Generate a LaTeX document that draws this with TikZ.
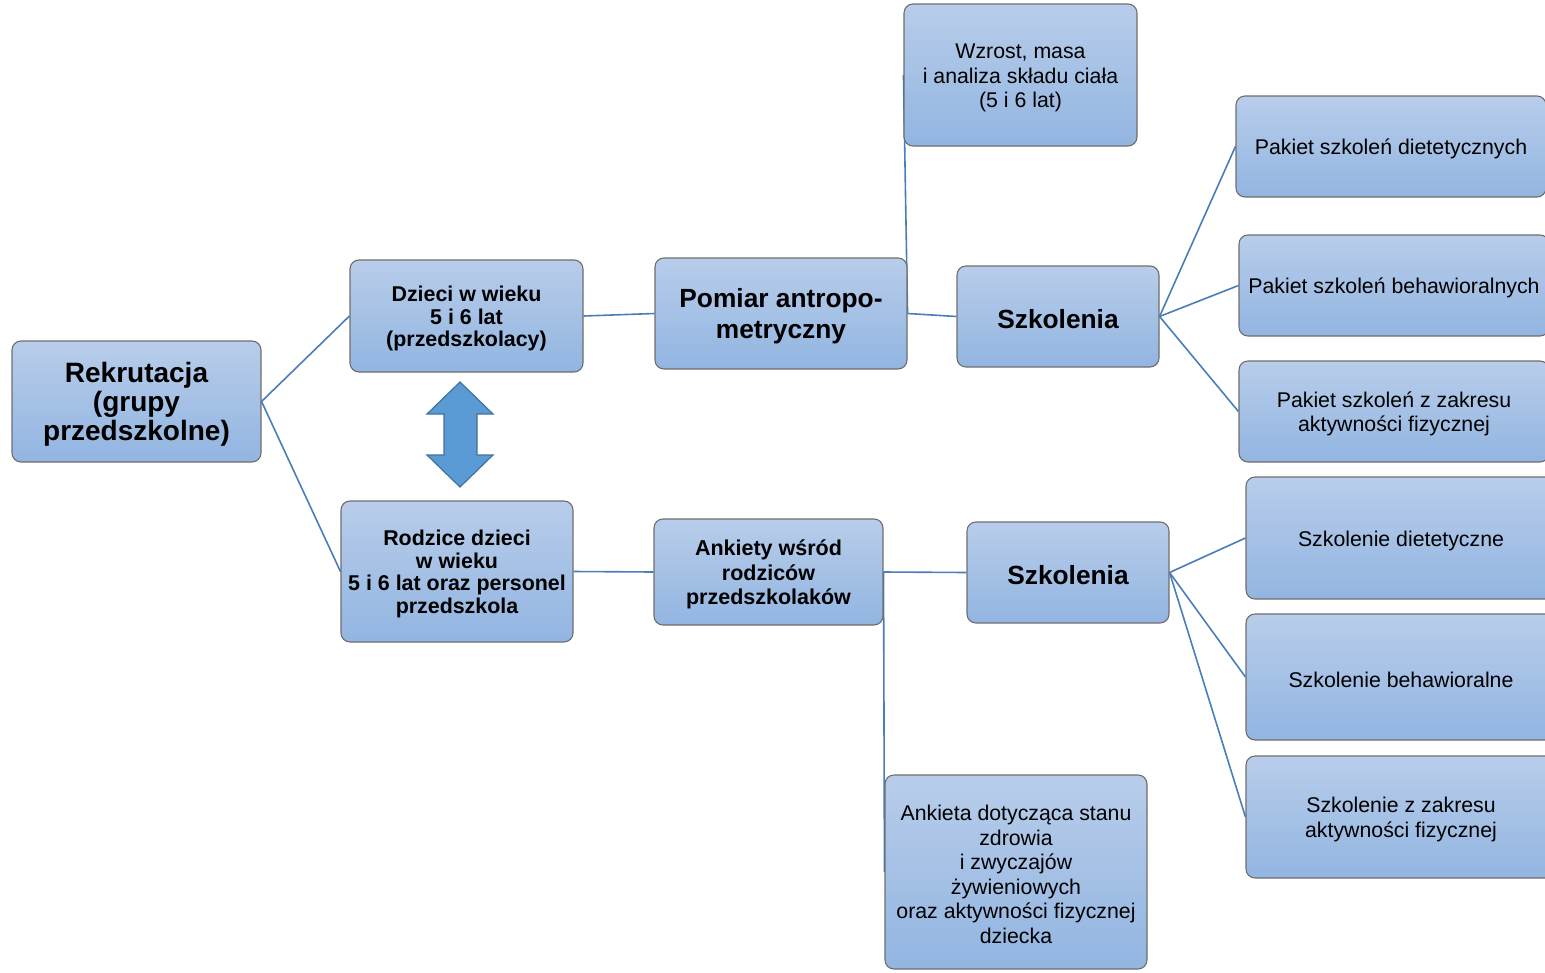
\documentclass[tikz,border=0pt]{standalone}
\usepackage{fontspec}
\setmainfont{Liberation Sans}
\usetikzlibrary{backgrounds}

\definecolor{boxtop}{RGB}{184,205,234}
\definecolor{boxbot}{RGB}{146,181,225}
\definecolor{boxline}{RGB}{110,110,110}
\definecolor{linkblue}{RGB}{74,126,187}
\definecolor{arrowfill}{RGB}{91,155,213}
\definecolor{arrowline}{RGB}{65,113,156}

\newcommand{\fhuge}{\fontsize{28}{29}\selectfont\bfseries}
\newcommand{\fbig}{\fontsize{26.3}{31}\selectfont\bfseries}
\newcommand{\fmid}{\fontsize{21.4}{22.5}\selectfont\bfseries}
\newcommand{\fmidb}{\fontsize{21.5}{24.5}\selectfont\bfseries}
\newcommand{\freg}{\fontsize{21.3}{24.5}\selectfont}
% pushes the first line a little down, as the boxes of the original do
\newcommand{\ts}{\rule{0pt}{\dimexpr 0.73em+5pt\relax}}

\tikzset{
    box/.style={draw=boxline, line width=1.1pt, rounded corners=9pt,
        top color=boxtop, bottom color=boxbot, align=center, inner sep=2pt},
    link/.style={draw=linkblue, line width=1.6pt}
}

\begin{document}
\begin{tikzpicture}[x=1pt, y=-1pt]
    \useasboundingbox (0,0) rectangle (1545,972);

    \node[box, minimum width=249pt, minimum height=121pt, font=\fhuge] (rekr) at (136.5,401.5) {\ts Rekrutacja\\(grupy\\przedszkolne)};
    \node[box, minimum width=233pt, minimum height=112pt, font=\fmid] (dzieci) at (466.5,316) {\ts Dzieci w wieku\\5 i 6 lat\\(przedszkolacy)};
    \node[box, minimum width=232pt, minimum height=141pt, font=\fmid] (rodzice) at (457,571.5) {\ts Rodzice dzieci\\w wieku\\5 i 6 lat oraz personel\\przedszkola};
    \node[box, minimum width=252pt, minimum height=111pt, font=\fbig] (pomiar) at (781,313.5) {\ts Pomiar antropo-\\metryczny};
    \node[box, minimum width=229pt, minimum height=106pt, font=\fmidb] (ankiety) at (768.5,572) {\ts Ankiety wśród\\rodziców\\przedszkolaków};
    \node[box, minimum width=233pt, minimum height=142pt, font=\freg] (wzrost) at (1020.5,75) {\ts Wzrost, masa\\i analiza składu ciała\\(5 i 6 lat)};
    \node[box, minimum width=202pt, minimum height=101pt, font=\fbig] (szkolA) at (1058,316.5) {\ts Szkolenia};
    \node[box, minimum width=202pt, minimum height=101pt, font=\fbig] (szkolB) at (1068,572.5) {\ts Szkolenia};
    \node[box, minimum width=262pt, minimum height=194pt, font=\freg] (ankieta) at (1016,872) {\ts Ankieta dotycząca stanu\\zdrowia\\i zwyczajów\\żywieniowych\\oraz aktywności fizycznej\\dziecka};

    \node[box, minimum width=310pt, minimum height=101pt, font=\freg] (pakA) at (1391,146.5) {\ts Pakiet szkoleń dietetycznych};
    \node[box, minimum width=310pt, minimum height=101pt, font=\freg] (pakB) at (1394,285.5) {\ts Pakiet szkoleń behawioralnych};
    \node[box, minimum width=310pt, minimum height=101pt, font=\freg] (pakC) at (1394,411.5) {\ts Pakiet szkoleń z zakresu\\aktywności fizycznej};
    \node[box, minimum width=310pt, minimum height=122pt, font=\freg] (szkA) at (1401,538) {\ts Szkolenie dietetyczne};
    \node[box, minimum width=310pt, minimum height=126pt, font=\freg] (szkB) at (1401,677) {\ts Szkolenie behawioralne};
    \node[box, minimum width=310pt, minimum height=122pt, font=\freg] (szkC) at (1401,817) {\ts Szkolenie z zakresu\\aktywności fizycznej};

    % double arrow between the two groups
    \draw[fill=arrowfill, draw=arrowline, line width=1.2pt, line join=miter]
        (460,382) -- (493,414) -- (477,414) -- (477,455) -- (493,455) -- (460,487)
        -- (427,455) -- (444,455) -- (444,414) -- (427,414) -- cycle;

    \begin{scope}[on background layer]
        \draw[link] (rekr.east) -- (dzieci.west);
        \draw[link] (rekr.east) -- (rodzice.west);
        \draw[link] (dzieci.east) -- (pomiar.west);
        \draw[link] (rodzice.east) -- (ankiety.west);
        \draw[link] (pomiar.east) -- (szkolA.west);
        \draw[link] (pomiar.east) -- (wzrost.west);
        \draw[link] (ankiety.east) -- (szkolB.west);
        \draw[link] (ankiety.east) -- (ankieta.west);
        \draw[link] (szkolA.east) -- (pakA.west);
        \draw[link] (szkolA.east) -- (pakB.west);
        \draw[link] (szkolA.east) -- (pakC.west);
        \draw[link] (szkolB.east) -- (szkA.west);
        \draw[link] (szkolB.east) -- (szkB.west);
        \draw[link] (szkolB.east) -- (szkC.west);
    \end{scope}
\end{tikzpicture}
\end{document}
